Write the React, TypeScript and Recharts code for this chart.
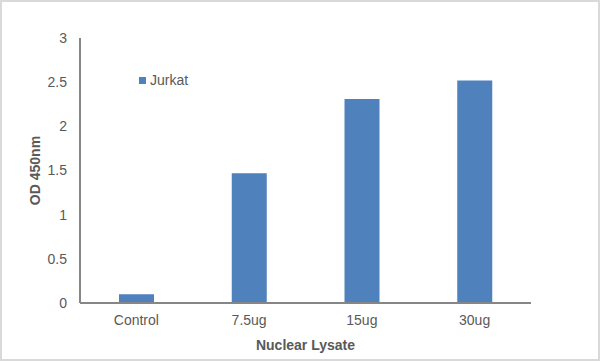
import React from "react";
import { BarChart, Bar, XAxis, YAxis, Label } from "recharts";

const categories = ["Control", "7.5ug", "15ug", "30ug"];
const jurkat = [0.1, 1.47, 2.31, 2.52];
const yTicks = [0, 0.5, 1, 1.5, 2, 2.5, 3];
const seriesName = "Jurkat";

const data = categories.map((c, i) => ({ name: c, value: jurkat[i] }));

const FONT = "'Liberation Sans', Arial, sans-serif";
const TXT = "#595959";
const BAR = "#4F81BD";

export default function App() {
  return (
    <div style={{ position: "absolute", left: 0, top: 0, width: 600, height: 361, background: "#fff" }}>
      <BarChart
        width={600}
        height={361}
        data={data}
        margin={{ top: 38, right: 69, left: 30, bottom: 13 }}
        style={{ fontFamily: FONT }}
      >
        <XAxis
          dataKey="name"
          height={45}
          axisLine={{ stroke: "#868686", strokeWidth: 2 }}
          tickLine={false}
          tickMargin={6}
          tick={{ fill: TXT, fontSize: 14, fontFamily: FONT }}
        >
          <Label
            value="Nuclear Lysate"
            position="bottom"
            offset={-8}
            style={{ fill: TXT, fontSize: 14, fontWeight: "bold", fontFamily: FONT }}
          />
        </XAxis>
        <YAxis
          domain={[0, 3]}
          ticks={yTicks}
          width={50}
          axisLine={{ stroke: "#868686", strokeWidth: 2 }}
          tickLine={false}
          tickMargin={7}
          tick={{ fill: TXT, fontSize: 14, fontFamily: FONT }}
        >
          <Label
            value="OD 450nm"
            angle={-90}
            position="insideLeft"
            offset={5}
            style={{ fill: TXT, fontSize: 14, fontWeight: "bold", fontFamily: FONT, textAnchor: "middle" }}
          />
        </YAxis>
        <Bar dataKey="value" name={seriesName} fill={BAR} barSize={35} isAnimationActive={false} />
      </BarChart>
      <div
        style={{
          position: "absolute",
          left: 139,
          top: 71,
          display: "flex",
          alignItems: "center",
          fontFamily: FONT,
          fontSize: 14,
          color: TXT,
          lineHeight: "18px",
        }}
      >
        <span style={{ display: "inline-block", width: 7, height: 7, background: BAR, marginRight: 4 }} />
        <span>{seriesName}</span>
      </div>
      <div
        style={{
          position: "absolute",
          left: 0,
          top: 0,
          width: 600,
          height: 361,
          boxSizing: "border-box",
          border: "2px solid #d9d9d9",
          pointerEvents: "none",
        }}
      />
    </div>
  );
}
